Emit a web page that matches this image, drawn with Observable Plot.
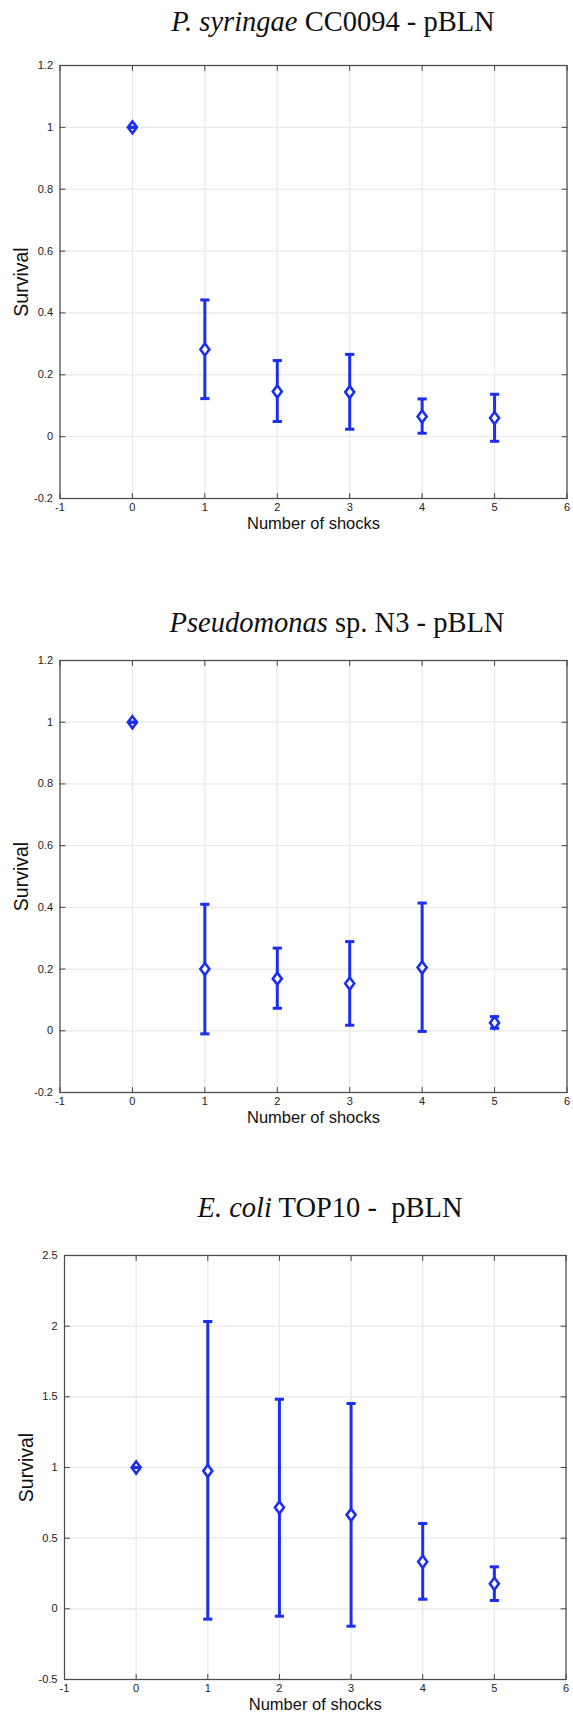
<!DOCTYPE html>
<html>
<head>
<meta charset="utf-8">
<script src="https://cdn.jsdelivr.net/npm/d3@7"></script>
<script src="https://cdn.jsdelivr.net/npm/@observablehq/plot@0.6"></script>
<style>
  html, body { margin: 0; padding: 0; background: #fff; }
  #page { position: relative; width: 573px; height: 1719px; overflow: hidden; background: #fff; }
  .title { position: absolute; font-family: "Liberation Serif", "Times New Roman", serif; font-size: 28.5px; line-height: 1; white-space: pre; color: #111; transform: translateX(-50%); }
  .panel { position: absolute; left: 0; }
</style>
</head>
<body>
<div id="page"></div>
<script>
// ---- data ----
const shocks = [0, 1, 2, 3, 4, 5];

const titles = [
  ["P. syringae", " CC0094 - pBLN"],
  ["Pseudomonas", " sp. N3 - pBLN"],
  ["E. coli", " TOP10 -  pBLN"]
];

// Panel 1: P. syringae CC0094 - pBLN
const syrMean = [1.0, 0.282, 0.146, 0.144, 0.065, 0.060];
const syrLow  = [1.0, 0.123, 0.049, 0.024, 0.011, -0.015];
const syrHigh = [1.0, 0.442, 0.246, 0.266, 0.122, 0.137];

// Panel 2: Pseudomonas sp. N3 - pBLN
const n3Mean = [1.0, 0.200, 0.169, 0.153, 0.205, 0.026];
const n3Low  = [1.0, -0.010, 0.073, 0.018, -0.002, 0.008];
const n3High = [1.0, 0.410, 0.268, 0.289, 0.414, 0.046];

// Panel 3: E. coli TOP10 - pBLN
const ecoMean = [1.0, 0.976, 0.717, 0.665, 0.333, 0.177];
const ecoLow  = [1.0, -0.073, -0.052, -0.123, 0.068, 0.059];
const ecoHigh = [1.0, 2.033, 1.483, 1.453, 0.604, 0.297];

const xTicks = [-1, 0, 1, 2, 3, 4, 5, 6];
const yTicksA = [-0.2, 0, 0.2, 0.4, 0.6, 0.8, 1, 1.2];
const yTicksB = [-0.5, 0, 0.5, 1, 1.5, 2, 2.5];

const xLabel = "Number of shocks";
const yLabel = "Survival";

// ---- drawing ----
const blue = "#1a2ff0";
const fmt = d => String(+(+d).toFixed(1));

const diamond = {
  draw(ctx, size) {
    const r = Math.sqrt(size / Math.PI);
    const w = r * 0.75;
    ctx.moveTo(0, -r); ctx.lineTo(w, 0); ctx.lineTo(0, r); ctx.lineTo(-w, 0); ctx.closePath();
  }
};
const capSym = {
  draw(ctx, size) {
    const r = Math.sqrt(size / Math.PI);
    ctx.moveTo(-r, 0); ctx.lineTo(r, 0);
  }
};
const tickShape = {
  draw(ctx, l) { ctx.moveTo(0, 0); ctx.lineTo(0, -l); }
};

function panel(cfg) {
  const rows = shocks.map((x, i) => ({x, y: cfg.mean[i], lo: cfg.low[i], hi: cfg.high[i]}));
  const tickStyle = {length: 5, anchor: "start", shape: tickShape, stroke: "#444", strokeWidth: 1};
  return Plot.plot({
    width: 573,
    height: cfg.height,
    marginLeft: cfg.ml, marginRight: cfg.mr, marginTop: cfg.mt, marginBottom: cfg.mb,
    style: {fontFamily: "'Liberation Sans', Arial, sans-serif", fontSize: "11px", background: "white", color: "#222", overflow: "visible"},
    x: {domain: [-1, 6], label: null},
    y: {domain: cfg.yDomain, label: null},
    marks: [
      Plot.gridX(xTicks, {stroke: "#e9e9e9", strokeOpacity: 1, strokeWidth: 1.3}),
      Plot.gridY(cfg.yTicks, {stroke: "#e9e9e9", strokeOpacity: 1, strokeWidth: 1.3}),
      Plot.vector(xTicks, {x: d => d, frameAnchor: "bottom", rotate: 0, ...tickStyle}),
      Plot.vector(xTicks, {x: d => d, frameAnchor: "top", rotate: 180, ...tickStyle}),
      Plot.vector(cfg.yTicks, {y: d => d, frameAnchor: "left", rotate: 90, ...tickStyle}),
      Plot.vector(cfg.yTicks, {y: d => d, frameAnchor: "right", rotate: -90, ...tickStyle}),
      Plot.frame({stroke: "#4a4a4a", strokeWidth: 1.2}),
      Plot.axisX({anchor: "bottom", ticks: xTicks, tickSize: 0, tickPadding: 5, tickFormat: fmt, label: null, fontSize: 11, fill: "#222"}),
      Plot.axisY({anchor: "left", ticks: cfg.yTicks, tickSize: 0, tickPadding: 7, tickFormat: fmt, label: null, fontSize: 11, fill: "#222"}),
      Plot.ruleX(rows, {x: "x", y1: "lo", y2: "hi", stroke: blue, strokeWidth: 3}),
      Plot.dot(rows, {x: "x", y: "y", symbol: diamond, r: 6, stroke: blue, fill: "white", strokeWidth: 2.6}),
      Plot.dot(rows, {x: "x", y: "hi", symbol: capSym, r: 4.6, stroke: blue, fill: "none", strokeWidth: 3}),
      Plot.dot(rows, {x: "x", y: "lo", symbol: capSym, r: 4.6, stroke: blue, fill: "none", strokeWidth: 3}),
      Plot.text([yLabel], {text: d => d, frameAnchor: "left", textAnchor: "middle", lineAnchor: "middle", dx: -38, rotate: -90, fontSize: 19.5, fill: "#111"}),
      Plot.text([xLabel], {text: d => d, frameAnchor: "bottom", textAnchor: "middle", dy: cfg.xdy, fontSize: 16.5, fill: "#111"})
    ]
  });
}

const page = document.getElementById("page");

function addTitle(parts, cx, top) {
  const d = document.createElement("div");
  d.className = "title";
  d.style.left = cx + "px";
  d.style.top = top + "px";
  const i = document.createElement("i");
  i.textContent = parts[0];
  d.appendChild(i);
  d.appendChild(document.createTextNode(parts[1]));
  page.appendChild(d);
}

function addPanel(svg, top) {
  const w = document.createElement("div");
  w.className = "panel";
  w.style.top = top + "px";
  w.appendChild(svg);
  page.appendChild(w);
}

addTitle(titles[0], 333, 8);
addPanel(panel({mean: syrMean, low: syrLow, high: syrHigh, yDomain: [-0.2, 1.2], yTicks: yTicksA,
  height: 500, ml: 59.5, mr: 6.5, mt: 25, mb: 42, xdy: 30}), 40);

addTitle(titles[1], 337, 609);
addPanel(panel({mean: n3Mean, low: n3Low, high: n3High, yDomain: [-0.2, 1.2], yTicks: yTicksA,
  height: 500, ml: 59.5, mr: 6.5, mt: 20, mb: 48, xdy: 30}), 640);

addTitle(titles[2], 330, 1194);
addPanel(panel({mean: ecoMean, low: ecoLow, high: ecoHigh, yDomain: [-0.5, 2.5], yTicks: yTicksB,
  height: 489, ml: 64, mr: 7.5, mt: 25, mb: 40, xdy: 30}), 1230);
</script>
</body>
</html>
